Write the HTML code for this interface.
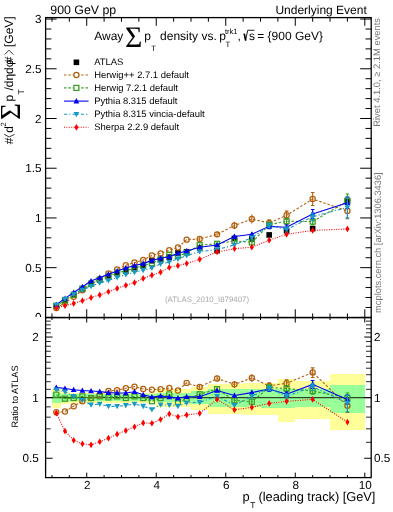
<!DOCTYPE html>
<html><head><meta charset="utf-8"><style>
html,body{margin:0;padding:0;background:#fff;}
body{width:393px;height:512px;overflow:hidden;position:relative;font-family:"Liberation Sans",sans-serif;}
svg{position:absolute;left:0;top:0;will-change:transform;}
text{text-rendering:geometricPrecision;}
</style></head><body>
<svg width="393" height="512" viewBox="0 0 393 512">
<defs><clipPath id="ct"><rect x="45.6" y="17.6" width="325.59999999999997" height="299.95"/></clipPath><clipPath id="cr"><rect x="45.6" y="317.55" width="325.59999999999997" height="160.05"/></clipPath><clipPath id="c0"><rect x="0" y="0" width="45" height="317"/></clipPath></defs>
<rect x="0" y="0" width="393" height="512" fill="#fff"/>
<g shape-rendering="crispEdges">
<rect x="51.96" y="388.53" width="8.69" height="19.31" fill="#ffff99"/>
<rect x="60.65" y="391.74" width="8.69" height="12.26" fill="#ffff99"/>
<rect x="69.34" y="392.56" width="8.69" height="10.50" fill="#ffff99"/>
<rect x="78.03" y="392.56" width="8.69" height="10.50" fill="#ffff99"/>
<rect x="86.72" y="392.56" width="8.69" height="10.50" fill="#ffff99"/>
<rect x="95.41" y="392.56" width="8.69" height="10.50" fill="#ffff99"/>
<rect x="104.10" y="392.56" width="8.69" height="10.50" fill="#ffff99"/>
<rect x="112.79" y="392.56" width="8.69" height="10.50" fill="#ffff99"/>
<rect x="121.48" y="392.56" width="8.69" height="10.50" fill="#ffff99"/>
<rect x="130.17" y="392.56" width="8.69" height="10.50" fill="#ffff99"/>
<rect x="138.86" y="392.56" width="8.69" height="10.50" fill="#ffff99"/>
<rect x="147.55" y="392.56" width="8.69" height="10.50" fill="#ffff99"/>
<rect x="156.24" y="389.32" width="8.69" height="17.54" fill="#ffff99"/>
<rect x="164.93" y="389.32" width="8.69" height="17.54" fill="#ffff99"/>
<rect x="173.62" y="389.32" width="8.69" height="17.54" fill="#ffff99"/>
<rect x="182.31" y="389.32" width="8.69" height="17.54" fill="#ffff99"/>
<rect x="191.00" y="386.97" width="17.38" height="22.86" fill="#ffff99"/>
<rect x="208.38" y="383.92" width="17.38" height="30.02" fill="#ffff99"/>
<rect x="225.76" y="383.55" width="17.38" height="30.92" fill="#ffff99"/>
<rect x="243.14" y="383.18" width="17.38" height="31.82" fill="#ffff99"/>
<rect x="260.52" y="383.18" width="17.38" height="31.82" fill="#ffff99"/>
<rect x="277.90" y="378.84" width="17.38" height="42.80" fill="#ffff99"/>
<rect x="295.28" y="380.62" width="34.76" height="38.19" fill="#ffff99"/>
<rect x="330.04" y="374.04" width="34.76" height="56.05" fill="#ffff99"/>
<rect x="51.96" y="392.72" width="8.69" height="10.15" fill="#99ff99"/>
<rect x="60.65" y="393.80" width="8.69" height="7.87" fill="#99ff99"/>
<rect x="69.34" y="394.39" width="8.69" height="6.65" fill="#99ff99"/>
<rect x="78.03" y="394.39" width="8.69" height="6.65" fill="#99ff99"/>
<rect x="86.72" y="394.39" width="8.69" height="6.65" fill="#99ff99"/>
<rect x="95.41" y="394.39" width="8.69" height="6.65" fill="#99ff99"/>
<rect x="104.10" y="394.39" width="8.69" height="6.65" fill="#99ff99"/>
<rect x="112.79" y="394.39" width="8.69" height="6.65" fill="#99ff99"/>
<rect x="121.48" y="394.39" width="8.69" height="6.65" fill="#99ff99"/>
<rect x="130.17" y="394.39" width="8.69" height="6.65" fill="#99ff99"/>
<rect x="138.86" y="394.39" width="8.69" height="6.65" fill="#99ff99"/>
<rect x="147.55" y="394.39" width="8.69" height="6.65" fill="#99ff99"/>
<rect x="156.24" y="393.22" width="8.69" height="9.10" fill="#99ff99"/>
<rect x="164.93" y="393.22" width="8.69" height="9.10" fill="#99ff99"/>
<rect x="173.62" y="393.22" width="8.69" height="9.10" fill="#99ff99"/>
<rect x="182.31" y="393.22" width="8.69" height="9.10" fill="#99ff99"/>
<rect x="191.00" y="391.33" width="17.38" height="13.14" fill="#99ff99"/>
<rect x="208.38" y="389.32" width="17.38" height="17.54" fill="#99ff99"/>
<rect x="225.76" y="389.32" width="17.38" height="17.54" fill="#99ff99"/>
<rect x="243.14" y="389.32" width="17.38" height="17.54" fill="#99ff99"/>
<rect x="260.52" y="388.53" width="17.38" height="19.31" fill="#99ff99"/>
<rect x="277.90" y="388.76" width="17.38" height="18.78" fill="#99ff99"/>
<rect x="295.28" y="389.00" width="34.76" height="18.25" fill="#99ff99"/>
<rect x="330.04" y="384.90" width="34.76" height="27.68" fill="#99ff99"/>
</g>
<line x1="45.6" y1="397.6" x2="371.2" y2="397.6" stroke="#000" stroke-opacity="0.72" stroke-width="1.25"/>
<rect x="53.50" y="303.40" width="5.6" height="5.6" fill="#000"/>
<rect x="62.19" y="297.51" width="5.6" height="5.6" fill="#000"/>
<rect x="70.89" y="291.91" width="5.6" height="5.6" fill="#000"/>
<rect x="79.58" y="286.31" width="5.6" height="5.6" fill="#000"/>
<rect x="88.27" y="280.81" width="5.6" height="5.6" fill="#000"/>
<rect x="96.95" y="277.41" width="5.6" height="5.6" fill="#000"/>
<rect x="105.64" y="273.82" width="5.6" height="5.6" fill="#000"/>
<rect x="114.33" y="270.62" width="5.6" height="5.6" fill="#000"/>
<rect x="123.03" y="267.82" width="5.6" height="5.6" fill="#000"/>
<rect x="131.71" y="266.12" width="5.6" height="5.6" fill="#000"/>
<rect x="140.40" y="262.62" width="5.6" height="5.6" fill="#000"/>
<rect x="149.09" y="258.02" width="5.6" height="5.6" fill="#000"/>
<rect x="157.78" y="256.52" width="5.6" height="5.6" fill="#000"/>
<rect x="166.47" y="254.32" width="5.6" height="5.6" fill="#000"/>
<rect x="175.16" y="250.12" width="5.6" height="5.6" fill="#000"/>
<rect x="183.85" y="248.92" width="5.6" height="5.6" fill="#000"/>
<rect x="196.89" y="245.13" width="5.6" height="5.6" fill="#000"/>
<rect x="214.27" y="247.82" width="5.6" height="5.6" fill="#000"/>
<rect x="231.65" y="235.63" width="5.6" height="5.6" fill="#000"/>
<rect x="249.03" y="236.13" width="5.6" height="5.6" fill="#000"/>
<rect x="266.41" y="232.13" width="5.6" height="5.6" fill="#000"/>
<rect x="283.79" y="227.93" width="5.6" height="5.6" fill="#000"/>
<rect x="309.86" y="225.83" width="5.6" height="5.6" fill="#000"/>
<rect x="344.62" y="197.64" width="5.6" height="5.6" fill="#000"/>
<polyline clip-path="url(#ct)" points="56.30,307.93 64.99,302.83 73.69,296.81 82.38,290.24 91.06,283.79 99.75,278.92 108.44,273.38 117.13,269.57 125.83,265.27 134.51,262.41 143.20,260.00 151.89,255.48 160.58,253.38 169.27,250.12 177.96,247.48 186.65,239.65 199.69,238.95 217.07,234.36 234.45,225.48 251.83,219.03 269.21,223.05 286.59,215.23 312.66,199.06 347.42,210.93" fill="none" stroke="#b3600f" stroke-width="1.1" stroke-dasharray="2.5,1.8"/>
<polyline clip-path="url(#cr)" points="56.30,412.31 64.99,411.59 73.69,406.15 82.38,401.21 91.06,398.10 99.75,394.67 108.44,390.97 117.13,390.33 125.83,388.19 134.51,386.65 143.20,388.98 151.89,389.77 160.58,389.13 169.27,388.04 177.96,390.57 186.65,382.89 199.69,387.03 217.07,378.59 234.45,384.37 251.83,377.90 269.21,385.88 286.59,383.26 312.66,372.51 347.42,405.87" fill="none" stroke="#b3600f" stroke-width="1.1" stroke-dasharray="2.5,1.8"/>
<path d="M199.69,236.60V241.30" stroke="#b3600f" stroke-width="1.1"/>
<path d="M199.69,384.45V389.69" stroke="#b3600f" stroke-width="1.1"/>
<path d="M217.07,231.45V237.27" stroke="#b3600f" stroke-width="1.1"/>
<path d="M217.07,375.58V381.71" stroke="#b3600f" stroke-width="1.1"/>
<path d="M234.45,221.80V229.16" stroke="#b3600f" stroke-width="1.1"/>
<path d="M234.45,380.95V387.94" stroke="#b3600f" stroke-width="1.1"/>
<path d="M251.83,214.51V223.56" stroke="#b3600f" stroke-width="1.1"/>
<path d="M251.83,373.96V382.01" stroke="#b3600f" stroke-width="1.1"/>
<path d="M269.21,219.74V226.35M267.41,219.74H271.01M267.41,226.35H271.01" stroke="#b3600f" stroke-width="1.1"/>
<path d="M269.21,382.87V389.00M267.41,382.87H271.01M267.41,389.00H271.01" stroke="#b3600f" stroke-width="1.1"/>
<path d="M286.59,211.14V219.31M284.79,211.14H288.39M284.79,219.31H288.39" stroke="#b3600f" stroke-width="1.1"/>
<path d="M286.59,379.83V386.83M284.79,379.83H288.39M284.79,386.83H288.39" stroke="#b3600f" stroke-width="1.1"/>
<path d="M312.66,192.55V205.57M310.86,192.55H314.46M310.86,205.57H314.46" stroke="#b3600f" stroke-width="1.1"/>
<path d="M312.66,367.83V377.46M310.86,367.83H314.46M310.86,377.46H314.46" stroke="#b3600f" stroke-width="1.1"/>
<path d="M347.42,203.16V218.71M345.62,203.16H349.22M345.62,218.71H349.22" stroke="#b3600f" stroke-width="1.1"/>
<path d="M347.42,399.71V412.49M345.62,399.71H349.22M345.62,412.49H349.22" stroke="#b3600f" stroke-width="1.1"/>
<circle cx="56.30" cy="307.93" r="2.6" fill="none" stroke="#b3600f" stroke-width="1.25"/>
<circle cx="56.30" cy="412.31" r="2.6" fill="none" stroke="#b3600f" stroke-width="1.25"/>
<circle cx="64.99" cy="302.83" r="2.6" fill="none" stroke="#b3600f" stroke-width="1.25"/>
<circle cx="64.99" cy="411.59" r="2.6" fill="none" stroke="#b3600f" stroke-width="1.25"/>
<circle cx="73.69" cy="296.81" r="2.6" fill="none" stroke="#b3600f" stroke-width="1.25"/>
<circle cx="73.69" cy="406.15" r="2.6" fill="none" stroke="#b3600f" stroke-width="1.25"/>
<circle cx="82.38" cy="290.24" r="2.6" fill="none" stroke="#b3600f" stroke-width="1.25"/>
<circle cx="82.38" cy="401.21" r="2.6" fill="none" stroke="#b3600f" stroke-width="1.25"/>
<circle cx="91.06" cy="283.79" r="2.6" fill="none" stroke="#b3600f" stroke-width="1.25"/>
<circle cx="91.06" cy="398.10" r="2.6" fill="none" stroke="#b3600f" stroke-width="1.25"/>
<circle cx="99.75" cy="278.92" r="2.6" fill="none" stroke="#b3600f" stroke-width="1.25"/>
<circle cx="99.75" cy="394.67" r="2.6" fill="none" stroke="#b3600f" stroke-width="1.25"/>
<circle cx="108.44" cy="273.38" r="2.6" fill="none" stroke="#b3600f" stroke-width="1.25"/>
<circle cx="108.44" cy="390.97" r="2.6" fill="none" stroke="#b3600f" stroke-width="1.25"/>
<circle cx="117.13" cy="269.57" r="2.6" fill="none" stroke="#b3600f" stroke-width="1.25"/>
<circle cx="117.13" cy="390.33" r="2.6" fill="none" stroke="#b3600f" stroke-width="1.25"/>
<circle cx="125.83" cy="265.27" r="2.6" fill="none" stroke="#b3600f" stroke-width="1.25"/>
<circle cx="125.83" cy="388.19" r="2.6" fill="none" stroke="#b3600f" stroke-width="1.25"/>
<circle cx="134.51" cy="262.41" r="2.6" fill="none" stroke="#b3600f" stroke-width="1.25"/>
<circle cx="134.51" cy="386.65" r="2.6" fill="none" stroke="#b3600f" stroke-width="1.25"/>
<circle cx="143.20" cy="260.00" r="2.6" fill="none" stroke="#b3600f" stroke-width="1.25"/>
<circle cx="143.20" cy="388.98" r="2.6" fill="none" stroke="#b3600f" stroke-width="1.25"/>
<circle cx="151.89" cy="255.48" r="2.6" fill="none" stroke="#b3600f" stroke-width="1.25"/>
<circle cx="151.89" cy="389.77" r="2.6" fill="none" stroke="#b3600f" stroke-width="1.25"/>
<circle cx="160.58" cy="253.38" r="2.6" fill="none" stroke="#b3600f" stroke-width="1.25"/>
<circle cx="160.58" cy="389.13" r="2.6" fill="none" stroke="#b3600f" stroke-width="1.25"/>
<circle cx="169.27" cy="250.12" r="2.6" fill="none" stroke="#b3600f" stroke-width="1.25"/>
<circle cx="169.27" cy="388.04" r="2.6" fill="none" stroke="#b3600f" stroke-width="1.25"/>
<circle cx="177.96" cy="247.48" r="2.6" fill="none" stroke="#b3600f" stroke-width="1.25"/>
<circle cx="177.96" cy="390.57" r="2.6" fill="none" stroke="#b3600f" stroke-width="1.25"/>
<circle cx="186.65" cy="239.65" r="2.6" fill="none" stroke="#b3600f" stroke-width="1.25"/>
<circle cx="186.65" cy="382.89" r="2.6" fill="none" stroke="#b3600f" stroke-width="1.25"/>
<circle cx="199.69" cy="238.95" r="2.6" fill="none" stroke="#b3600f" stroke-width="1.25"/>
<circle cx="199.69" cy="387.03" r="2.6" fill="none" stroke="#b3600f" stroke-width="1.25"/>
<circle cx="217.07" cy="234.36" r="2.6" fill="none" stroke="#b3600f" stroke-width="1.25"/>
<circle cx="217.07" cy="378.59" r="2.6" fill="none" stroke="#b3600f" stroke-width="1.25"/>
<circle cx="234.45" cy="225.48" r="2.6" fill="none" stroke="#b3600f" stroke-width="1.25"/>
<circle cx="234.45" cy="384.37" r="2.6" fill="none" stroke="#b3600f" stroke-width="1.25"/>
<circle cx="251.83" cy="219.03" r="2.6" fill="none" stroke="#b3600f" stroke-width="1.25"/>
<circle cx="251.83" cy="377.90" r="2.6" fill="none" stroke="#b3600f" stroke-width="1.25"/>
<circle cx="269.21" cy="223.05" r="2.6" fill="none" stroke="#b3600f" stroke-width="1.25"/>
<circle cx="269.21" cy="385.88" r="2.6" fill="none" stroke="#b3600f" stroke-width="1.25"/>
<circle cx="286.59" cy="215.23" r="2.6" fill="none" stroke="#b3600f" stroke-width="1.25"/>
<circle cx="286.59" cy="383.26" r="2.6" fill="none" stroke="#b3600f" stroke-width="1.25"/>
<circle cx="312.66" cy="199.06" r="2.6" fill="none" stroke="#b3600f" stroke-width="1.25"/>
<circle cx="312.66" cy="372.51" r="2.6" fill="none" stroke="#b3600f" stroke-width="1.25"/>
<circle cx="347.42" cy="210.93" r="2.6" fill="none" stroke="#b3600f" stroke-width="1.25"/>
<circle cx="347.42" cy="405.87" r="2.6" fill="none" stroke="#b3600f" stroke-width="1.25"/>
<polyline clip-path="url(#ct)" points="56.30,305.82 64.99,300.51 73.69,294.82 82.38,288.69 91.06,283.79 99.75,279.66 108.44,276.50 117.13,272.77 125.83,270.86 134.51,268.20 143.20,265.69 151.89,263.08 160.58,259.62 169.27,254.85 177.96,256.08 186.65,252.71 199.69,245.17 217.07,243.79 234.45,240.80 251.83,242.45 269.21,224.69 286.59,221.26 312.66,221.58 347.42,201.04" fill="none" stroke="#3c9c26" stroke-width="1.1" stroke-dasharray="2.5,1.8"/>
<polyline clip-path="url(#cr)" points="56.30,394.67 64.99,398.71 73.69,398.10 82.38,396.37 91.06,398.10 99.75,396.37 108.44,397.40 117.13,396.37 125.83,398.10 134.51,396.37 143.20,398.10 151.89,401.21 160.58,398.10 169.27,394.42 177.96,402.03 186.65,398.98 199.69,394.25 217.07,389.13 234.45,400.31 251.83,401.67 269.21,387.42 286.59,388.58 312.66,390.97 347.42,398.10" fill="none" stroke="#3c9c26" stroke-width="1.1" stroke-dasharray="2.5,1.8"/>
<path d="M199.69,243.73V246.62" stroke="#3c9c26" stroke-width="1.1"/>
<path d="M199.69,392.52V396.02" stroke="#3c9c26" stroke-width="1.1"/>
<path d="M217.07,241.95V245.63" stroke="#3c9c26" stroke-width="1.1"/>
<path d="M217.07,386.98V391.35" stroke="#3c9c26" stroke-width="1.1"/>
<path d="M234.45,238.50V243.10" stroke="#3c9c26" stroke-width="1.1"/>
<path d="M234.45,397.73V402.98" stroke="#3c9c26" stroke-width="1.1"/>
<path d="M251.83,239.83V245.08" stroke="#3c9c26" stroke-width="1.1"/>
<path d="M251.83,398.66V404.78" stroke="#3c9c26" stroke-width="1.1"/>
<path d="M269.21,222.37V227.01M267.41,222.37H271.01M267.41,227.01H271.01" stroke="#3c9c26" stroke-width="1.1"/>
<path d="M269.21,385.26V389.63M267.41,385.26H271.01M267.41,389.63H271.01" stroke="#3c9c26" stroke-width="1.1"/>
<path d="M286.59,218.38V224.15M284.79,218.38H288.39M284.79,224.15H288.39" stroke="#3c9c26" stroke-width="1.1"/>
<path d="M286.59,386.00V391.25M284.79,386.00H288.39M284.79,391.25H288.39" stroke="#3c9c26" stroke-width="1.1"/>
<path d="M312.66,218.23V224.94M310.86,218.23H314.46M310.86,224.94H314.46" stroke="#3c9c26" stroke-width="1.1"/>
<path d="M312.66,387.96V394.08M310.86,387.96H314.46M310.86,394.08H314.46" stroke="#3c9c26" stroke-width="1.1"/>
<path d="M347.42,194.06V208.02M345.62,194.06H349.22M345.62,208.02H349.22" stroke="#3c9c26" stroke-width="1.1"/>
<path d="M347.42,393.01V403.51M345.62,393.01H349.22M345.62,403.51H349.22" stroke="#3c9c26" stroke-width="1.1"/>
<rect x="53.80" y="303.32" width="5.0" height="5.0" fill="none" stroke="#3c9c26" stroke-width="1.25"/>
<rect x="53.80" y="392.17" width="5.0" height="5.0" fill="none" stroke="#3c9c26" stroke-width="1.25"/>
<rect x="62.49" y="298.01" width="5.0" height="5.0" fill="none" stroke="#3c9c26" stroke-width="1.25"/>
<rect x="62.49" y="396.21" width="5.0" height="5.0" fill="none" stroke="#3c9c26" stroke-width="1.25"/>
<rect x="71.19" y="292.32" width="5.0" height="5.0" fill="none" stroke="#3c9c26" stroke-width="1.25"/>
<rect x="71.19" y="395.60" width="5.0" height="5.0" fill="none" stroke="#3c9c26" stroke-width="1.25"/>
<rect x="79.88" y="286.19" width="5.0" height="5.0" fill="none" stroke="#3c9c26" stroke-width="1.25"/>
<rect x="79.88" y="393.87" width="5.0" height="5.0" fill="none" stroke="#3c9c26" stroke-width="1.25"/>
<rect x="88.56" y="281.29" width="5.0" height="5.0" fill="none" stroke="#3c9c26" stroke-width="1.25"/>
<rect x="88.56" y="395.60" width="5.0" height="5.0" fill="none" stroke="#3c9c26" stroke-width="1.25"/>
<rect x="97.25" y="277.16" width="5.0" height="5.0" fill="none" stroke="#3c9c26" stroke-width="1.25"/>
<rect x="97.25" y="393.87" width="5.0" height="5.0" fill="none" stroke="#3c9c26" stroke-width="1.25"/>
<rect x="105.94" y="274.00" width="5.0" height="5.0" fill="none" stroke="#3c9c26" stroke-width="1.25"/>
<rect x="105.94" y="394.90" width="5.0" height="5.0" fill="none" stroke="#3c9c26" stroke-width="1.25"/>
<rect x="114.63" y="270.27" width="5.0" height="5.0" fill="none" stroke="#3c9c26" stroke-width="1.25"/>
<rect x="114.63" y="393.87" width="5.0" height="5.0" fill="none" stroke="#3c9c26" stroke-width="1.25"/>
<rect x="123.33" y="268.36" width="5.0" height="5.0" fill="none" stroke="#3c9c26" stroke-width="1.25"/>
<rect x="123.33" y="395.60" width="5.0" height="5.0" fill="none" stroke="#3c9c26" stroke-width="1.25"/>
<rect x="132.01" y="265.70" width="5.0" height="5.0" fill="none" stroke="#3c9c26" stroke-width="1.25"/>
<rect x="132.01" y="393.87" width="5.0" height="5.0" fill="none" stroke="#3c9c26" stroke-width="1.25"/>
<rect x="140.70" y="263.19" width="5.0" height="5.0" fill="none" stroke="#3c9c26" stroke-width="1.25"/>
<rect x="140.70" y="395.60" width="5.0" height="5.0" fill="none" stroke="#3c9c26" stroke-width="1.25"/>
<rect x="149.39" y="260.58" width="5.0" height="5.0" fill="none" stroke="#3c9c26" stroke-width="1.25"/>
<rect x="149.39" y="398.71" width="5.0" height="5.0" fill="none" stroke="#3c9c26" stroke-width="1.25"/>
<rect x="158.08" y="257.12" width="5.0" height="5.0" fill="none" stroke="#3c9c26" stroke-width="1.25"/>
<rect x="158.08" y="395.60" width="5.0" height="5.0" fill="none" stroke="#3c9c26" stroke-width="1.25"/>
<rect x="166.77" y="252.35" width="5.0" height="5.0" fill="none" stroke="#3c9c26" stroke-width="1.25"/>
<rect x="166.77" y="391.92" width="5.0" height="5.0" fill="none" stroke="#3c9c26" stroke-width="1.25"/>
<rect x="175.46" y="253.58" width="5.0" height="5.0" fill="none" stroke="#3c9c26" stroke-width="1.25"/>
<rect x="175.46" y="399.53" width="5.0" height="5.0" fill="none" stroke="#3c9c26" stroke-width="1.25"/>
<rect x="184.15" y="250.21" width="5.0" height="5.0" fill="none" stroke="#3c9c26" stroke-width="1.25"/>
<rect x="184.15" y="396.48" width="5.0" height="5.0" fill="none" stroke="#3c9c26" stroke-width="1.25"/>
<rect x="197.19" y="242.67" width="5.0" height="5.0" fill="none" stroke="#3c9c26" stroke-width="1.25"/>
<rect x="197.19" y="391.75" width="5.0" height="5.0" fill="none" stroke="#3c9c26" stroke-width="1.25"/>
<rect x="214.57" y="241.29" width="5.0" height="5.0" fill="none" stroke="#3c9c26" stroke-width="1.25"/>
<rect x="214.57" y="386.63" width="5.0" height="5.0" fill="none" stroke="#3c9c26" stroke-width="1.25"/>
<rect x="231.95" y="238.30" width="5.0" height="5.0" fill="none" stroke="#3c9c26" stroke-width="1.25"/>
<rect x="231.95" y="397.81" width="5.0" height="5.0" fill="none" stroke="#3c9c26" stroke-width="1.25"/>
<rect x="249.33" y="239.95" width="5.0" height="5.0" fill="none" stroke="#3c9c26" stroke-width="1.25"/>
<rect x="249.33" y="399.17" width="5.0" height="5.0" fill="none" stroke="#3c9c26" stroke-width="1.25"/>
<rect x="266.71" y="222.19" width="5.0" height="5.0" fill="none" stroke="#3c9c26" stroke-width="1.25"/>
<rect x="266.71" y="384.92" width="5.0" height="5.0" fill="none" stroke="#3c9c26" stroke-width="1.25"/>
<rect x="284.09" y="218.76" width="5.0" height="5.0" fill="none" stroke="#3c9c26" stroke-width="1.25"/>
<rect x="284.09" y="386.08" width="5.0" height="5.0" fill="none" stroke="#3c9c26" stroke-width="1.25"/>
<rect x="310.16" y="219.08" width="5.0" height="5.0" fill="none" stroke="#3c9c26" stroke-width="1.25"/>
<rect x="310.16" y="388.47" width="5.0" height="5.0" fill="none" stroke="#3c9c26" stroke-width="1.25"/>
<rect x="344.92" y="198.54" width="5.0" height="5.0" fill="none" stroke="#3c9c26" stroke-width="1.25"/>
<rect x="344.92" y="395.60" width="5.0" height="5.0" fill="none" stroke="#3c9c26" stroke-width="1.25"/>
<polyline clip-path="url(#ct)" points="56.30,304.81 64.99,298.40 73.69,292.57 82.38,286.72 91.06,280.93 99.75,277.52 108.44,274.19 117.13,271.02 125.83,268.06 134.51,265.55 143.20,263.62 151.89,260.38 160.58,258.23 169.27,256.71 177.96,253.25 186.65,251.02 199.69,247.18 217.07,244.99 234.45,236.48 251.83,234.26 269.21,226.33 286.59,227.30 312.66,214.08 347.42,202.79" fill="none" stroke="#0000ee" stroke-width="1.1"/>
<polyline clip-path="url(#cr)" points="56.30,387.42 64.99,388.43 73.69,389.77 82.38,390.57 91.06,390.97 99.75,391.53 108.44,392.59 117.13,393.01 125.83,393.01 134.51,391.78 143.20,394.67 151.89,396.97 160.58,396.03 169.27,397.06 177.96,398.10 186.65,396.71 199.69,396.71 217.07,390.57 234.45,395.52 251.83,392.59 269.21,388.98 286.59,394.25 312.66,384.37 347.42,399.42" fill="none" stroke="#0000ee" stroke-width="1.1"/>
<path d="M199.69,246.12V248.23" stroke="#0000ee" stroke-width="1.1"/>
<path d="M199.69,395.41V398.03" stroke="#0000ee" stroke-width="1.1"/>
<path d="M217.07,243.54V246.44" stroke="#0000ee" stroke-width="1.1"/>
<path d="M217.07,388.83V392.33" stroke="#0000ee" stroke-width="1.1"/>
<path d="M234.45,234.45V238.50" stroke="#0000ee" stroke-width="1.1"/>
<path d="M234.45,393.36V397.73" stroke="#0000ee" stroke-width="1.1"/>
<path d="M251.83,232.18V236.34" stroke="#0000ee" stroke-width="1.1"/>
<path d="M251.83,390.44V394.81" stroke="#0000ee" stroke-width="1.1"/>
<path d="M269.21,224.05V228.61M267.41,224.05H271.01M267.41,228.61H271.01" stroke="#0000ee" stroke-width="1.1"/>
<path d="M269.21,386.82V391.19M267.41,386.82H271.01M267.41,391.19H271.01" stroke="#0000ee" stroke-width="1.1"/>
<path d="M286.59,225.04V229.55M284.79,225.04H288.39M284.79,229.55H288.39" stroke="#0000ee" stroke-width="1.1"/>
<path d="M286.59,392.09V396.47M284.79,392.09H288.39M284.79,396.47H288.39" stroke="#0000ee" stroke-width="1.1"/>
<path d="M312.66,209.43V218.73M310.86,209.43H314.46M310.86,218.73H314.46" stroke="#0000ee" stroke-width="1.1"/>
<path d="M312.66,380.53V388.40M310.86,380.53H314.46M310.86,388.40H314.46" stroke="#0000ee" stroke-width="1.1"/>
<path d="M347.42,197.06V208.52M345.62,197.06H349.22M345.62,208.52H349.22" stroke="#0000ee" stroke-width="1.1"/>
<path d="M347.42,395.16V403.91M345.62,395.16H349.22M345.62,403.91H349.22" stroke="#0000ee" stroke-width="1.1"/>
<path d="M56.30,301.81L59.20,307.11L53.40,307.11Z" fill="#0000ee"/>
<path d="M56.30,384.42L59.20,389.72L53.40,389.72Z" fill="#0000ee"/>
<path d="M64.99,295.40L67.89,300.70L62.09,300.70Z" fill="#0000ee"/>
<path d="M64.99,385.43L67.89,390.73L62.09,390.73Z" fill="#0000ee"/>
<path d="M73.69,289.57L76.59,294.87L70.78,294.87Z" fill="#0000ee"/>
<path d="M73.69,386.77L76.59,392.07L70.78,392.07Z" fill="#0000ee"/>
<path d="M82.38,283.72L85.28,289.02L79.47,289.02Z" fill="#0000ee"/>
<path d="M82.38,387.57L85.28,392.87L79.47,392.87Z" fill="#0000ee"/>
<path d="M91.06,277.93L93.97,283.23L88.16,283.23Z" fill="#0000ee"/>
<path d="M91.06,387.97L93.97,393.27L88.16,393.27Z" fill="#0000ee"/>
<path d="M99.75,274.52L102.66,279.82L96.85,279.82Z" fill="#0000ee"/>
<path d="M99.75,388.53L102.66,393.83L96.85,393.83Z" fill="#0000ee"/>
<path d="M108.44,271.19L111.34,276.49L105.54,276.49Z" fill="#0000ee"/>
<path d="M108.44,389.59L111.34,394.89L105.54,394.89Z" fill="#0000ee"/>
<path d="M117.13,268.02L120.03,273.32L114.23,273.32Z" fill="#0000ee"/>
<path d="M117.13,390.01L120.03,395.31L114.23,395.31Z" fill="#0000ee"/>
<path d="M125.83,265.06L128.72,270.36L122.92,270.36Z" fill="#0000ee"/>
<path d="M125.83,390.01L128.72,395.31L122.92,395.31Z" fill="#0000ee"/>
<path d="M134.51,262.55L137.41,267.85L131.61,267.85Z" fill="#0000ee"/>
<path d="M134.51,388.78L137.41,394.08L131.61,394.08Z" fill="#0000ee"/>
<path d="M143.20,260.62L146.10,265.92L140.30,265.92Z" fill="#0000ee"/>
<path d="M143.20,391.67L146.10,396.97L140.30,396.97Z" fill="#0000ee"/>
<path d="M151.89,257.38L154.79,262.68L148.99,262.68Z" fill="#0000ee"/>
<path d="M151.89,393.97L154.79,399.27L148.99,399.27Z" fill="#0000ee"/>
<path d="M160.58,255.23L163.48,260.53L157.68,260.53Z" fill="#0000ee"/>
<path d="M160.58,393.03L163.48,398.33L157.68,398.33Z" fill="#0000ee"/>
<path d="M169.27,253.71L172.17,259.01L166.37,259.01Z" fill="#0000ee"/>
<path d="M169.27,394.06L172.17,399.36L166.37,399.36Z" fill="#0000ee"/>
<path d="M177.96,250.25L180.86,255.55L175.06,255.55Z" fill="#0000ee"/>
<path d="M177.96,395.10L180.86,400.40L175.06,400.40Z" fill="#0000ee"/>
<path d="M186.65,248.02L189.55,253.32L183.75,253.32Z" fill="#0000ee"/>
<path d="M186.65,393.71L189.55,399.01L183.75,399.01Z" fill="#0000ee"/>
<path d="M199.69,244.18L202.59,249.48L196.79,249.48Z" fill="#0000ee"/>
<path d="M199.69,393.71L202.59,399.01L196.79,399.01Z" fill="#0000ee"/>
<path d="M217.07,241.99L219.97,247.29L214.17,247.29Z" fill="#0000ee"/>
<path d="M217.07,387.57L219.97,392.87L214.17,392.87Z" fill="#0000ee"/>
<path d="M234.45,233.48L237.35,238.78L231.55,238.78Z" fill="#0000ee"/>
<path d="M234.45,392.52L237.35,397.82L231.55,397.82Z" fill="#0000ee"/>
<path d="M251.83,231.26L254.73,236.56L248.93,236.56Z" fill="#0000ee"/>
<path d="M251.83,389.59L254.73,394.89L248.93,394.89Z" fill="#0000ee"/>
<path d="M269.21,223.33L272.11,228.63L266.31,228.63Z" fill="#0000ee"/>
<path d="M269.21,385.98L272.11,391.28L266.31,391.28Z" fill="#0000ee"/>
<path d="M286.59,224.30L289.49,229.60L283.69,229.60Z" fill="#0000ee"/>
<path d="M286.59,391.25L289.49,396.55L283.69,396.55Z" fill="#0000ee"/>
<path d="M312.66,211.08L315.56,216.38L309.76,216.38Z" fill="#0000ee"/>
<path d="M312.66,381.37L315.56,386.67L309.76,386.67Z" fill="#0000ee"/>
<path d="M347.42,199.79L350.32,205.09L344.52,205.09Z" fill="#0000ee"/>
<path d="M347.42,396.42L350.32,401.72L344.52,401.72Z" fill="#0000ee"/>
<polyline clip-path="url(#ct)" points="56.30,305.15 64.99,299.12 73.69,294.37 82.38,289.93 91.06,286.27 99.75,282.81 108.44,280.48 117.13,277.58 125.83,274.58 134.51,272.30 143.20,270.24 151.89,267.98 160.58,263.90 169.27,262.05 177.96,258.90 186.65,255.59 199.69,251.60 217.07,249.51 234.45,244.96 251.83,237.77 269.21,225.51 286.59,229.45 312.66,216.72 347.42,207.44" fill="none" stroke="#1899c6" stroke-width="1.1" stroke-dasharray="3.2,2,1.2,2"/>
<polyline clip-path="url(#cr)" points="56.30,389.77 64.99,391.78 73.69,396.37 82.38,400.22 91.06,404.82 99.75,403.98 108.44,406.34 117.13,406.34 125.83,405.39 134.51,403.98 143.20,406.15 151.89,409.47 160.58,404.82 169.27,405.10 177.96,406.15 186.65,402.95 199.69,402.40 217.07,396.20 234.45,405.20 251.83,396.37 269.21,388.19 286.59,396.37 312.66,386.65 347.42,403.05" fill="none" stroke="#1899c6" stroke-width="1.1" stroke-dasharray="3.2,2,1.2,2"/>
<path d="M199.69,250.28V252.92" stroke="#1899c6" stroke-width="1.1"/>
<path d="M199.69,400.67V404.17" stroke="#1899c6" stroke-width="1.1"/>
<path d="M217.07,248.15V250.86" stroke="#1899c6" stroke-width="1.1"/>
<path d="M217.07,394.47V397.96" stroke="#1899c6" stroke-width="1.1"/>
<path d="M234.45,243.15V246.77" stroke="#1899c6" stroke-width="1.1"/>
<path d="M234.45,403.04V407.41" stroke="#1899c6" stroke-width="1.1"/>
<path d="M251.83,235.38V240.16" stroke="#1899c6" stroke-width="1.1"/>
<path d="M251.83,393.78V399.03" stroke="#1899c6" stroke-width="1.1"/>
<path d="M269.21,223.21V227.81M267.41,223.21H271.01M267.41,227.81H271.01" stroke="#1899c6" stroke-width="1.1"/>
<path d="M269.21,386.03V390.41M267.41,386.03H271.01M267.41,390.41H271.01" stroke="#1899c6" stroke-width="1.1"/>
<path d="M286.59,226.81V232.09M284.79,226.81H288.39M284.79,232.09H288.39" stroke="#1899c6" stroke-width="1.1"/>
<path d="M286.59,393.78V399.03M284.79,393.78H288.39M284.79,399.03H288.39" stroke="#1899c6" stroke-width="1.1"/>
<path d="M312.66,212.70V220.75M310.86,212.70H314.46M310.86,220.75H314.46" stroke="#1899c6" stroke-width="1.1"/>
<path d="M312.66,383.22V390.21M310.86,383.22H314.46M310.86,390.21H314.46" stroke="#1899c6" stroke-width="1.1"/>
<path d="M347.42,197.00V217.89M345.62,197.00H349.22M345.62,217.89H349.22" stroke="#1899c6" stroke-width="1.1"/>
<path d="M347.42,395.11V411.77M345.62,395.11H349.22M345.62,411.77H349.22" stroke="#1899c6" stroke-width="1.1"/>
<path d="M56.30,308.15L59.20,302.85L53.40,302.85Z" fill="#1899c6"/>
<path d="M56.30,392.77L59.20,387.47L53.40,387.47Z" fill="#1899c6"/>
<path d="M64.99,302.12L67.89,296.82L62.09,296.82Z" fill="#1899c6"/>
<path d="M64.99,394.78L67.89,389.48L62.09,389.48Z" fill="#1899c6"/>
<path d="M73.69,297.37L76.59,292.07L70.78,292.07Z" fill="#1899c6"/>
<path d="M73.69,399.37L76.59,394.07L70.78,394.07Z" fill="#1899c6"/>
<path d="M82.38,292.93L85.28,287.63L79.47,287.63Z" fill="#1899c6"/>
<path d="M82.38,403.22L85.28,397.92L79.47,397.92Z" fill="#1899c6"/>
<path d="M91.06,289.27L93.97,283.97L88.16,283.97Z" fill="#1899c6"/>
<path d="M91.06,407.82L93.97,402.52L88.16,402.52Z" fill="#1899c6"/>
<path d="M99.75,285.81L102.66,280.51L96.85,280.51Z" fill="#1899c6"/>
<path d="M99.75,406.98L102.66,401.68L96.85,401.68Z" fill="#1899c6"/>
<path d="M108.44,283.48L111.34,278.18L105.54,278.18Z" fill="#1899c6"/>
<path d="M108.44,409.34L111.34,404.04L105.54,404.04Z" fill="#1899c6"/>
<path d="M117.13,280.58L120.03,275.28L114.23,275.28Z" fill="#1899c6"/>
<path d="M117.13,409.34L120.03,404.04L114.23,404.04Z" fill="#1899c6"/>
<path d="M125.83,277.58L128.72,272.28L122.92,272.28Z" fill="#1899c6"/>
<path d="M125.83,408.39L128.72,403.09L122.92,403.09Z" fill="#1899c6"/>
<path d="M134.51,275.30L137.41,270.00L131.61,270.00Z" fill="#1899c6"/>
<path d="M134.51,406.98L137.41,401.68L131.61,401.68Z" fill="#1899c6"/>
<path d="M143.20,273.24L146.10,267.94L140.30,267.94Z" fill="#1899c6"/>
<path d="M143.20,409.15L146.10,403.85L140.30,403.85Z" fill="#1899c6"/>
<path d="M151.89,270.98L154.79,265.68L148.99,265.68Z" fill="#1899c6"/>
<path d="M151.89,412.47L154.79,407.17L148.99,407.17Z" fill="#1899c6"/>
<path d="M160.58,266.90L163.48,261.60L157.68,261.60Z" fill="#1899c6"/>
<path d="M160.58,407.82L163.48,402.52L157.68,402.52Z" fill="#1899c6"/>
<path d="M169.27,265.05L172.17,259.75L166.37,259.75Z" fill="#1899c6"/>
<path d="M169.27,408.10L172.17,402.80L166.37,402.80Z" fill="#1899c6"/>
<path d="M177.96,261.90L180.86,256.60L175.06,256.60Z" fill="#1899c6"/>
<path d="M177.96,409.15L180.86,403.85L175.06,403.85Z" fill="#1899c6"/>
<path d="M186.65,258.59L189.55,253.29L183.75,253.29Z" fill="#1899c6"/>
<path d="M186.65,405.95L189.55,400.65L183.75,400.65Z" fill="#1899c6"/>
<path d="M199.69,254.60L202.59,249.30L196.79,249.30Z" fill="#1899c6"/>
<path d="M199.69,405.40L202.59,400.10L196.79,400.10Z" fill="#1899c6"/>
<path d="M217.07,252.51L219.97,247.21L214.17,247.21Z" fill="#1899c6"/>
<path d="M217.07,399.20L219.97,393.90L214.17,393.90Z" fill="#1899c6"/>
<path d="M234.45,247.96L237.35,242.66L231.55,242.66Z" fill="#1899c6"/>
<path d="M234.45,408.20L237.35,402.90L231.55,402.90Z" fill="#1899c6"/>
<path d="M251.83,240.77L254.73,235.47L248.93,235.47Z" fill="#1899c6"/>
<path d="M251.83,399.37L254.73,394.07L248.93,394.07Z" fill="#1899c6"/>
<path d="M269.21,228.51L272.11,223.21L266.31,223.21Z" fill="#1899c6"/>
<path d="M269.21,391.19L272.11,385.89L266.31,385.89Z" fill="#1899c6"/>
<path d="M286.59,232.45L289.49,227.15L283.69,227.15Z" fill="#1899c6"/>
<path d="M286.59,399.37L289.49,394.07L283.69,394.07Z" fill="#1899c6"/>
<path d="M312.66,219.72L315.56,214.42L309.76,214.42Z" fill="#1899c6"/>
<path d="M312.66,389.65L315.56,384.35L309.76,384.35Z" fill="#1899c6"/>
<path d="M347.42,210.44L350.32,205.14L344.52,205.14Z" fill="#1899c6"/>
<path d="M347.42,406.05L350.32,400.75L344.52,400.75Z" fill="#1899c6"/>
<polyline clip-path="url(#ct)" points="56.30,308.01 64.99,305.73 73.69,303.47 82.38,300.71 91.06,297.70 99.75,294.94 108.44,291.76 117.13,288.43 125.83,285.29 134.51,282.67 143.20,278.46 151.89,275.18 160.58,272.16 169.27,267.39 177.96,265.63 186.65,263.50 199.69,259.34 217.07,251.90 234.45,248.73 251.83,247.14 269.21,240.19 286.59,234.28 312.66,230.41 347.42,228.97" fill="none" stroke="#ff0000" stroke-width="1.1" stroke-dasharray="1,1.4"/>
<polyline clip-path="url(#cr)" points="56.30,413.03 64.99,431.05 73.69,440.32 82.38,443.78 91.06,444.82 99.75,441.74 108.44,438.22 117.13,434.16 125.83,430.54 134.51,426.82 143.20,422.90 151.89,423.25 160.58,419.49 169.27,413.97 177.96,416.85 186.65,414.92 199.69,413.34 217.07,399.33 234.45,409.87 251.83,407.31 269.21,403.42 286.59,401.31 312.66,399.42 347.42,422.09" fill="none" stroke="#ff0000" stroke-width="1.1" stroke-dasharray="1,1.4"/>
<path d="M56.30,304.66L58.35,308.01L56.30,311.36L54.25,308.01Z" fill="#ff0000"/>
<path d="M56.30,409.68L58.35,413.03L56.30,416.38L54.25,413.03Z" fill="#ff0000"/>
<path d="M64.99,302.38L67.04,305.73L64.99,309.08L62.94,305.73Z" fill="#ff0000"/>
<path d="M64.99,427.70L67.04,431.05L64.99,434.40L62.94,431.05Z" fill="#ff0000"/>
<path d="M73.69,300.12L75.73,303.47L73.69,306.82L71.64,303.47Z" fill="#ff0000"/>
<path d="M73.69,436.97L75.73,440.32L73.69,443.67L71.64,440.32Z" fill="#ff0000"/>
<path d="M82.38,297.36L84.42,300.71L82.38,304.06L80.33,300.71Z" fill="#ff0000"/>
<path d="M82.38,440.43L84.42,443.78L82.38,447.13L80.33,443.78Z" fill="#ff0000"/>
<path d="M91.06,294.35L93.11,297.70L91.06,301.05L89.02,297.70Z" fill="#ff0000"/>
<path d="M91.06,441.47L93.11,444.82L91.06,448.17L89.02,444.82Z" fill="#ff0000"/>
<path d="M99.75,291.59L101.80,294.94L99.75,298.29L97.70,294.94Z" fill="#ff0000"/>
<path d="M99.75,438.39L101.80,441.74L99.75,445.09L97.70,441.74Z" fill="#ff0000"/>
<path d="M108.44,288.41L110.49,291.76L108.44,295.11L106.39,291.76Z" fill="#ff0000"/>
<path d="M108.44,434.87L110.49,438.22L108.44,441.57L106.39,438.22Z" fill="#ff0000"/>
<path d="M117.13,285.08L119.18,288.43L117.13,291.78L115.08,288.43Z" fill="#ff0000"/>
<path d="M117.13,430.81L119.18,434.16L117.13,437.51L115.08,434.16Z" fill="#ff0000"/>
<path d="M125.83,281.94L127.88,285.29L125.83,288.64L123.78,285.29Z" fill="#ff0000"/>
<path d="M125.83,427.19L127.88,430.54L125.83,433.89L123.78,430.54Z" fill="#ff0000"/>
<path d="M134.51,279.32L136.56,282.67L134.51,286.02L132.46,282.67Z" fill="#ff0000"/>
<path d="M134.51,423.47L136.56,426.82L134.51,430.17L132.46,426.82Z" fill="#ff0000"/>
<path d="M143.20,275.11L145.25,278.46L143.20,281.81L141.15,278.46Z" fill="#ff0000"/>
<path d="M143.20,419.55L145.25,422.90L143.20,426.25L141.15,422.90Z" fill="#ff0000"/>
<path d="M151.89,271.83L153.94,275.18L151.89,278.53L149.84,275.18Z" fill="#ff0000"/>
<path d="M151.89,419.90L153.94,423.25L151.89,426.60L149.84,423.25Z" fill="#ff0000"/>
<path d="M160.58,268.81L162.63,272.16L160.58,275.51L158.53,272.16Z" fill="#ff0000"/>
<path d="M160.58,416.14L162.63,419.49L160.58,422.84L158.53,419.49Z" fill="#ff0000"/>
<path d="M169.27,264.04L171.32,267.39L169.27,270.74L167.22,267.39Z" fill="#ff0000"/>
<path d="M169.27,410.62L171.32,413.97L169.27,417.32L167.22,413.97Z" fill="#ff0000"/>
<path d="M177.96,262.28L180.01,265.63L177.96,268.98L175.91,265.63Z" fill="#ff0000"/>
<path d="M177.96,413.50L180.01,416.85L177.96,420.20L175.91,416.85Z" fill="#ff0000"/>
<path d="M186.65,260.15L188.70,263.50L186.65,266.85L184.60,263.50Z" fill="#ff0000"/>
<path d="M186.65,411.57L188.70,414.92L186.65,418.27L184.60,414.92Z" fill="#ff0000"/>
<path d="M199.69,255.99L201.74,259.34L199.69,262.69L197.64,259.34Z" fill="#ff0000"/>
<path d="M199.69,409.99L201.74,413.34L199.69,416.69L197.64,413.34Z" fill="#ff0000"/>
<path d="M217.07,248.55L219.12,251.90L217.07,255.25L215.02,251.90Z" fill="#ff0000"/>
<path d="M217.07,395.98L219.12,399.33L217.07,402.68L215.02,399.33Z" fill="#ff0000"/>
<path d="M234.45,245.38L236.50,248.73L234.45,252.08L232.40,248.73Z" fill="#ff0000"/>
<path d="M234.45,406.52L236.50,409.87L234.45,413.22L232.40,409.87Z" fill="#ff0000"/>
<path d="M251.83,243.79L253.88,247.14L251.83,250.49L249.78,247.14Z" fill="#ff0000"/>
<path d="M251.83,403.96L253.88,407.31L251.83,410.66L249.78,407.31Z" fill="#ff0000"/>
<path d="M269.21,236.84L271.26,240.19L269.21,243.54L267.16,240.19Z" fill="#ff0000"/>
<path d="M269.21,400.07L271.26,403.42L269.21,406.77L267.16,403.42Z" fill="#ff0000"/>
<path d="M286.59,230.93L288.64,234.28L286.59,237.63L284.54,234.28Z" fill="#ff0000"/>
<path d="M286.59,397.96L288.64,401.31L286.59,404.66L284.54,401.31Z" fill="#ff0000"/>
<path d="M312.66,227.06L314.71,230.41L312.66,233.76L310.61,230.41Z" fill="#ff0000"/>
<path d="M312.66,396.07L314.71,399.42L312.66,402.77L310.61,399.42Z" fill="#ff0000"/>
<path d="M347.42,225.62L349.47,228.97L347.42,232.32L345.37,228.97Z" fill="#ff0000"/>
<path d="M347.42,418.74L349.47,422.09L347.42,425.44L345.37,422.09Z" fill="#ff0000"/>
<rect x="45.6" y="17.6" width="325.60" height="299.95" fill="none" stroke="#000" stroke-width="1.3"/>
<rect x="45.6" y="317.55" width="325.60" height="160.05" fill="none" stroke="#000" stroke-width="1.3"/>
<line x1="45.60" y1="317.40" x2="56.60" y2="317.40" stroke="#000" stroke-width="1.0"/>
<line x1="371.20" y1="317.40" x2="360.20" y2="317.40" stroke="#000" stroke-width="1.0"/>
<line x1="45.60" y1="307.45" x2="51.30" y2="307.45" stroke="#000" stroke-width="1.0"/>
<line x1="371.20" y1="307.45" x2="365.50" y2="307.45" stroke="#000" stroke-width="1.0"/>
<line x1="45.60" y1="297.51" x2="51.30" y2="297.51" stroke="#000" stroke-width="1.0"/>
<line x1="371.20" y1="297.51" x2="365.50" y2="297.51" stroke="#000" stroke-width="1.0"/>
<line x1="45.60" y1="287.56" x2="51.30" y2="287.56" stroke="#000" stroke-width="1.0"/>
<line x1="371.20" y1="287.56" x2="365.50" y2="287.56" stroke="#000" stroke-width="1.0"/>
<line x1="45.60" y1="277.62" x2="51.30" y2="277.62" stroke="#000" stroke-width="1.0"/>
<line x1="371.20" y1="277.62" x2="365.50" y2="277.62" stroke="#000" stroke-width="1.0"/>
<line x1="45.60" y1="267.67" x2="56.60" y2="267.67" stroke="#000" stroke-width="1.0"/>
<line x1="371.20" y1="267.67" x2="360.20" y2="267.67" stroke="#000" stroke-width="1.0"/>
<line x1="45.60" y1="257.73" x2="51.30" y2="257.73" stroke="#000" stroke-width="1.0"/>
<line x1="371.20" y1="257.73" x2="365.50" y2="257.73" stroke="#000" stroke-width="1.0"/>
<line x1="45.60" y1="247.78" x2="51.30" y2="247.78" stroke="#000" stroke-width="1.0"/>
<line x1="371.20" y1="247.78" x2="365.50" y2="247.78" stroke="#000" stroke-width="1.0"/>
<line x1="45.60" y1="237.84" x2="51.30" y2="237.84" stroke="#000" stroke-width="1.0"/>
<line x1="371.20" y1="237.84" x2="365.50" y2="237.84" stroke="#000" stroke-width="1.0"/>
<line x1="45.60" y1="227.89" x2="51.30" y2="227.89" stroke="#000" stroke-width="1.0"/>
<line x1="371.20" y1="227.89" x2="365.50" y2="227.89" stroke="#000" stroke-width="1.0"/>
<line x1="45.60" y1="217.95" x2="56.60" y2="217.95" stroke="#000" stroke-width="1.0"/>
<line x1="371.20" y1="217.95" x2="360.20" y2="217.95" stroke="#000" stroke-width="1.0"/>
<line x1="45.60" y1="208.00" x2="51.30" y2="208.00" stroke="#000" stroke-width="1.0"/>
<line x1="371.20" y1="208.00" x2="365.50" y2="208.00" stroke="#000" stroke-width="1.0"/>
<line x1="45.60" y1="198.06" x2="51.30" y2="198.06" stroke="#000" stroke-width="1.0"/>
<line x1="371.20" y1="198.06" x2="365.50" y2="198.06" stroke="#000" stroke-width="1.0"/>
<line x1="45.60" y1="188.11" x2="51.30" y2="188.11" stroke="#000" stroke-width="1.0"/>
<line x1="371.20" y1="188.11" x2="365.50" y2="188.11" stroke="#000" stroke-width="1.0"/>
<line x1="45.60" y1="178.17" x2="51.30" y2="178.17" stroke="#000" stroke-width="1.0"/>
<line x1="371.20" y1="178.17" x2="365.50" y2="178.17" stroke="#000" stroke-width="1.0"/>
<line x1="45.60" y1="168.22" x2="56.60" y2="168.22" stroke="#000" stroke-width="1.0"/>
<line x1="371.20" y1="168.22" x2="360.20" y2="168.22" stroke="#000" stroke-width="1.0"/>
<line x1="45.60" y1="158.28" x2="51.30" y2="158.28" stroke="#000" stroke-width="1.0"/>
<line x1="371.20" y1="158.28" x2="365.50" y2="158.28" stroke="#000" stroke-width="1.0"/>
<line x1="45.60" y1="148.33" x2="51.30" y2="148.33" stroke="#000" stroke-width="1.0"/>
<line x1="371.20" y1="148.33" x2="365.50" y2="148.33" stroke="#000" stroke-width="1.0"/>
<line x1="45.60" y1="138.39" x2="51.30" y2="138.39" stroke="#000" stroke-width="1.0"/>
<line x1="371.20" y1="138.39" x2="365.50" y2="138.39" stroke="#000" stroke-width="1.0"/>
<line x1="45.60" y1="128.44" x2="51.30" y2="128.44" stroke="#000" stroke-width="1.0"/>
<line x1="371.20" y1="128.44" x2="365.50" y2="128.44" stroke="#000" stroke-width="1.0"/>
<line x1="45.60" y1="118.50" x2="56.60" y2="118.50" stroke="#000" stroke-width="1.0"/>
<line x1="371.20" y1="118.50" x2="360.20" y2="118.50" stroke="#000" stroke-width="1.0"/>
<line x1="45.60" y1="108.55" x2="51.30" y2="108.55" stroke="#000" stroke-width="1.0"/>
<line x1="371.20" y1="108.55" x2="365.50" y2="108.55" stroke="#000" stroke-width="1.0"/>
<line x1="45.60" y1="98.61" x2="51.30" y2="98.61" stroke="#000" stroke-width="1.0"/>
<line x1="371.20" y1="98.61" x2="365.50" y2="98.61" stroke="#000" stroke-width="1.0"/>
<line x1="45.60" y1="88.66" x2="51.30" y2="88.66" stroke="#000" stroke-width="1.0"/>
<line x1="371.20" y1="88.66" x2="365.50" y2="88.66" stroke="#000" stroke-width="1.0"/>
<line x1="45.60" y1="78.72" x2="51.30" y2="78.72" stroke="#000" stroke-width="1.0"/>
<line x1="371.20" y1="78.72" x2="365.50" y2="78.72" stroke="#000" stroke-width="1.0"/>
<line x1="45.60" y1="68.77" x2="56.60" y2="68.77" stroke="#000" stroke-width="1.0"/>
<line x1="371.20" y1="68.77" x2="360.20" y2="68.77" stroke="#000" stroke-width="1.0"/>
<line x1="45.60" y1="58.83" x2="51.30" y2="58.83" stroke="#000" stroke-width="1.0"/>
<line x1="371.20" y1="58.83" x2="365.50" y2="58.83" stroke="#000" stroke-width="1.0"/>
<line x1="45.60" y1="48.88" x2="51.30" y2="48.88" stroke="#000" stroke-width="1.0"/>
<line x1="371.20" y1="48.88" x2="365.50" y2="48.88" stroke="#000" stroke-width="1.0"/>
<line x1="45.60" y1="38.94" x2="51.30" y2="38.94" stroke="#000" stroke-width="1.0"/>
<line x1="371.20" y1="38.94" x2="365.50" y2="38.94" stroke="#000" stroke-width="1.0"/>
<line x1="45.60" y1="29.00" x2="51.30" y2="29.00" stroke="#000" stroke-width="1.0"/>
<line x1="371.20" y1="29.00" x2="365.50" y2="29.00" stroke="#000" stroke-width="1.0"/>
<line x1="45.60" y1="19.05" x2="56.60" y2="19.05" stroke="#000" stroke-width="1.0"/>
<line x1="371.20" y1="19.05" x2="360.20" y2="19.05" stroke="#000" stroke-width="1.0"/>
<line x1="51.96" y1="17.60" x2="51.96" y2="21.70" stroke="#000" stroke-width="1.0"/>
<line x1="51.96" y1="317.55" x2="51.96" y2="313.45" stroke="#000" stroke-width="1.0"/>
<line x1="51.96" y1="477.60" x2="51.96" y2="475.10" stroke="#000" stroke-width="1.0"/>
<line x1="51.96" y1="317.55" x2="51.96" y2="320.05" stroke="#000" stroke-width="1.0"/>
<line x1="69.34" y1="17.60" x2="69.34" y2="21.70" stroke="#000" stroke-width="1.0"/>
<line x1="69.34" y1="317.55" x2="69.34" y2="313.45" stroke="#000" stroke-width="1.0"/>
<line x1="69.34" y1="477.60" x2="69.34" y2="475.10" stroke="#000" stroke-width="1.0"/>
<line x1="69.34" y1="317.55" x2="69.34" y2="320.05" stroke="#000" stroke-width="1.0"/>
<line x1="86.72" y1="17.60" x2="86.72" y2="25.80" stroke="#000" stroke-width="1.0"/>
<line x1="86.72" y1="317.55" x2="86.72" y2="309.25" stroke="#000" stroke-width="1.0"/>
<line x1="86.72" y1="477.60" x2="86.72" y2="472.60" stroke="#000" stroke-width="1.0"/>
<line x1="86.72" y1="317.55" x2="86.72" y2="322.55" stroke="#000" stroke-width="1.0"/>
<line x1="104.10" y1="17.60" x2="104.10" y2="21.70" stroke="#000" stroke-width="1.0"/>
<line x1="104.10" y1="317.55" x2="104.10" y2="313.45" stroke="#000" stroke-width="1.0"/>
<line x1="104.10" y1="477.60" x2="104.10" y2="475.10" stroke="#000" stroke-width="1.0"/>
<line x1="104.10" y1="317.55" x2="104.10" y2="320.05" stroke="#000" stroke-width="1.0"/>
<line x1="121.48" y1="17.60" x2="121.48" y2="21.70" stroke="#000" stroke-width="1.0"/>
<line x1="121.48" y1="317.55" x2="121.48" y2="313.45" stroke="#000" stroke-width="1.0"/>
<line x1="121.48" y1="477.60" x2="121.48" y2="475.10" stroke="#000" stroke-width="1.0"/>
<line x1="121.48" y1="317.55" x2="121.48" y2="320.05" stroke="#000" stroke-width="1.0"/>
<line x1="138.86" y1="17.60" x2="138.86" y2="21.70" stroke="#000" stroke-width="1.0"/>
<line x1="138.86" y1="317.55" x2="138.86" y2="313.45" stroke="#000" stroke-width="1.0"/>
<line x1="138.86" y1="477.60" x2="138.86" y2="475.10" stroke="#000" stroke-width="1.0"/>
<line x1="138.86" y1="317.55" x2="138.86" y2="320.05" stroke="#000" stroke-width="1.0"/>
<line x1="156.24" y1="17.60" x2="156.24" y2="25.80" stroke="#000" stroke-width="1.0"/>
<line x1="156.24" y1="317.55" x2="156.24" y2="309.25" stroke="#000" stroke-width="1.0"/>
<line x1="156.24" y1="477.60" x2="156.24" y2="472.60" stroke="#000" stroke-width="1.0"/>
<line x1="156.24" y1="317.55" x2="156.24" y2="322.55" stroke="#000" stroke-width="1.0"/>
<line x1="173.62" y1="17.60" x2="173.62" y2="21.70" stroke="#000" stroke-width="1.0"/>
<line x1="173.62" y1="317.55" x2="173.62" y2="313.45" stroke="#000" stroke-width="1.0"/>
<line x1="173.62" y1="477.60" x2="173.62" y2="475.10" stroke="#000" stroke-width="1.0"/>
<line x1="173.62" y1="317.55" x2="173.62" y2="320.05" stroke="#000" stroke-width="1.0"/>
<line x1="191.00" y1="17.60" x2="191.00" y2="21.70" stroke="#000" stroke-width="1.0"/>
<line x1="191.00" y1="317.55" x2="191.00" y2="313.45" stroke="#000" stroke-width="1.0"/>
<line x1="191.00" y1="477.60" x2="191.00" y2="475.10" stroke="#000" stroke-width="1.0"/>
<line x1="191.00" y1="317.55" x2="191.00" y2="320.05" stroke="#000" stroke-width="1.0"/>
<line x1="208.38" y1="17.60" x2="208.38" y2="21.70" stroke="#000" stroke-width="1.0"/>
<line x1="208.38" y1="317.55" x2="208.38" y2="313.45" stroke="#000" stroke-width="1.0"/>
<line x1="208.38" y1="477.60" x2="208.38" y2="475.10" stroke="#000" stroke-width="1.0"/>
<line x1="208.38" y1="317.55" x2="208.38" y2="320.05" stroke="#000" stroke-width="1.0"/>
<line x1="225.76" y1="17.60" x2="225.76" y2="25.80" stroke="#000" stroke-width="1.0"/>
<line x1="225.76" y1="317.55" x2="225.76" y2="309.25" stroke="#000" stroke-width="1.0"/>
<line x1="225.76" y1="477.60" x2="225.76" y2="472.60" stroke="#000" stroke-width="1.0"/>
<line x1="225.76" y1="317.55" x2="225.76" y2="322.55" stroke="#000" stroke-width="1.0"/>
<line x1="243.14" y1="17.60" x2="243.14" y2="21.70" stroke="#000" stroke-width="1.0"/>
<line x1="243.14" y1="317.55" x2="243.14" y2="313.45" stroke="#000" stroke-width="1.0"/>
<line x1="243.14" y1="477.60" x2="243.14" y2="475.10" stroke="#000" stroke-width="1.0"/>
<line x1="243.14" y1="317.55" x2="243.14" y2="320.05" stroke="#000" stroke-width="1.0"/>
<line x1="260.52" y1="17.60" x2="260.52" y2="21.70" stroke="#000" stroke-width="1.0"/>
<line x1="260.52" y1="317.55" x2="260.52" y2="313.45" stroke="#000" stroke-width="1.0"/>
<line x1="260.52" y1="477.60" x2="260.52" y2="475.10" stroke="#000" stroke-width="1.0"/>
<line x1="260.52" y1="317.55" x2="260.52" y2="320.05" stroke="#000" stroke-width="1.0"/>
<line x1="277.90" y1="17.60" x2="277.90" y2="21.70" stroke="#000" stroke-width="1.0"/>
<line x1="277.90" y1="317.55" x2="277.90" y2="313.45" stroke="#000" stroke-width="1.0"/>
<line x1="277.90" y1="477.60" x2="277.90" y2="475.10" stroke="#000" stroke-width="1.0"/>
<line x1="277.90" y1="317.55" x2="277.90" y2="320.05" stroke="#000" stroke-width="1.0"/>
<line x1="295.28" y1="17.60" x2="295.28" y2="25.80" stroke="#000" stroke-width="1.0"/>
<line x1="295.28" y1="317.55" x2="295.28" y2="309.25" stroke="#000" stroke-width="1.0"/>
<line x1="295.28" y1="477.60" x2="295.28" y2="472.60" stroke="#000" stroke-width="1.0"/>
<line x1="295.28" y1="317.55" x2="295.28" y2="322.55" stroke="#000" stroke-width="1.0"/>
<line x1="312.66" y1="17.60" x2="312.66" y2="21.70" stroke="#000" stroke-width="1.0"/>
<line x1="312.66" y1="317.55" x2="312.66" y2="313.45" stroke="#000" stroke-width="1.0"/>
<line x1="312.66" y1="477.60" x2="312.66" y2="475.10" stroke="#000" stroke-width="1.0"/>
<line x1="312.66" y1="317.55" x2="312.66" y2="320.05" stroke="#000" stroke-width="1.0"/>
<line x1="330.04" y1="17.60" x2="330.04" y2="21.70" stroke="#000" stroke-width="1.0"/>
<line x1="330.04" y1="317.55" x2="330.04" y2="313.45" stroke="#000" stroke-width="1.0"/>
<line x1="330.04" y1="477.60" x2="330.04" y2="475.10" stroke="#000" stroke-width="1.0"/>
<line x1="330.04" y1="317.55" x2="330.04" y2="320.05" stroke="#000" stroke-width="1.0"/>
<line x1="347.42" y1="17.60" x2="347.42" y2="21.70" stroke="#000" stroke-width="1.0"/>
<line x1="347.42" y1="317.55" x2="347.42" y2="313.45" stroke="#000" stroke-width="1.0"/>
<line x1="347.42" y1="477.60" x2="347.42" y2="475.10" stroke="#000" stroke-width="1.0"/>
<line x1="347.42" y1="317.55" x2="347.42" y2="320.05" stroke="#000" stroke-width="1.0"/>
<line x1="364.80" y1="17.60" x2="364.80" y2="25.80" stroke="#000" stroke-width="1.0"/>
<line x1="364.80" y1="317.55" x2="364.80" y2="309.25" stroke="#000" stroke-width="1.0"/>
<line x1="364.80" y1="477.60" x2="364.80" y2="472.60" stroke="#000" stroke-width="1.0"/>
<line x1="364.80" y1="317.55" x2="364.80" y2="322.55" stroke="#000" stroke-width="1.0"/>
<line x1="45.60" y1="458.25" x2="52.60" y2="458.25" stroke="#000" stroke-width="1.0"/>
<line x1="371.20" y1="458.25" x2="364.20" y2="458.25" stroke="#000" stroke-width="1.0"/>
<line x1="45.60" y1="442.31" x2="50.80" y2="442.31" stroke="#000" stroke-width="0.85"/>
<line x1="371.20" y1="442.31" x2="366.00" y2="442.31" stroke="#000" stroke-width="0.85"/>
<line x1="45.60" y1="428.83" x2="50.80" y2="428.83" stroke="#000" stroke-width="0.85"/>
<line x1="371.20" y1="428.83" x2="366.00" y2="428.83" stroke="#000" stroke-width="0.85"/>
<line x1="45.60" y1="417.16" x2="50.80" y2="417.16" stroke="#000" stroke-width="0.85"/>
<line x1="371.20" y1="417.16" x2="366.00" y2="417.16" stroke="#000" stroke-width="0.85"/>
<line x1="45.60" y1="406.86" x2="50.80" y2="406.86" stroke="#000" stroke-width="0.85"/>
<line x1="371.20" y1="406.86" x2="366.00" y2="406.86" stroke="#000" stroke-width="0.85"/>
<line x1="45.60" y1="397.65" x2="52.60" y2="397.65" stroke="#000" stroke-width="1.0"/>
<line x1="371.20" y1="397.65" x2="364.20" y2="397.65" stroke="#000" stroke-width="1.0"/>
<line x1="45.60" y1="389.32" x2="50.80" y2="389.32" stroke="#000" stroke-width="0.85"/>
<line x1="371.20" y1="389.32" x2="366.00" y2="389.32" stroke="#000" stroke-width="0.85"/>
<line x1="45.60" y1="381.71" x2="50.80" y2="381.71" stroke="#000" stroke-width="0.85"/>
<line x1="371.20" y1="381.71" x2="366.00" y2="381.71" stroke="#000" stroke-width="0.85"/>
<line x1="45.60" y1="374.71" x2="50.80" y2="374.71" stroke="#000" stroke-width="0.85"/>
<line x1="371.20" y1="374.71" x2="366.00" y2="374.71" stroke="#000" stroke-width="0.85"/>
<line x1="45.60" y1="368.23" x2="50.80" y2="368.23" stroke="#000" stroke-width="0.85"/>
<line x1="371.20" y1="368.23" x2="366.00" y2="368.23" stroke="#000" stroke-width="0.85"/>
<line x1="45.60" y1="362.20" x2="50.80" y2="362.20" stroke="#000" stroke-width="0.85"/>
<line x1="371.20" y1="362.20" x2="366.00" y2="362.20" stroke="#000" stroke-width="0.85"/>
<line x1="45.60" y1="356.56" x2="50.80" y2="356.56" stroke="#000" stroke-width="0.85"/>
<line x1="371.20" y1="356.56" x2="366.00" y2="356.56" stroke="#000" stroke-width="0.85"/>
<line x1="45.60" y1="351.26" x2="50.80" y2="351.26" stroke="#000" stroke-width="0.85"/>
<line x1="371.20" y1="351.26" x2="366.00" y2="351.26" stroke="#000" stroke-width="0.85"/>
<line x1="45.60" y1="346.26" x2="50.80" y2="346.26" stroke="#000" stroke-width="0.85"/>
<line x1="371.20" y1="346.26" x2="366.00" y2="346.26" stroke="#000" stroke-width="0.85"/>
<line x1="45.60" y1="341.54" x2="50.80" y2="341.54" stroke="#000" stroke-width="0.85"/>
<line x1="371.20" y1="341.54" x2="366.00" y2="341.54" stroke="#000" stroke-width="0.85"/>
<line x1="45.60" y1="337.05" x2="52.60" y2="337.05" stroke="#000" stroke-width="1.0"/>
<line x1="371.20" y1="337.05" x2="364.20" y2="337.05" stroke="#000" stroke-width="1.0"/>
<line x1="45.60" y1="332.79" x2="50.80" y2="332.79" stroke="#000" stroke-width="0.85"/>
<line x1="371.20" y1="332.79" x2="366.00" y2="332.79" stroke="#000" stroke-width="0.85"/>
<line x1="45.60" y1="328.72" x2="50.80" y2="328.72" stroke="#000" stroke-width="0.85"/>
<line x1="371.20" y1="328.72" x2="366.00" y2="328.72" stroke="#000" stroke-width="0.85"/>
<line x1="45.60" y1="324.83" x2="50.80" y2="324.83" stroke="#000" stroke-width="0.85"/>
<line x1="371.20" y1="324.83" x2="366.00" y2="324.83" stroke="#000" stroke-width="0.85"/>
<line x1="45.60" y1="321.11" x2="50.80" y2="321.11" stroke="#000" stroke-width="0.85"/>
<line x1="371.20" y1="321.11" x2="366.00" y2="321.11" stroke="#000" stroke-width="0.85"/>
<line x1="45.60" y1="317.54" x2="50.80" y2="317.54" stroke="#000" stroke-width="0.85"/>
<line x1="371.20" y1="317.54" x2="366.00" y2="317.54" stroke="#000" stroke-width="0.85"/>
<text x="50.3" y="14.3" font-size="12.35" font-family="Liberation Sans, sans-serif">900 GeV pp</text>
<text x="366.8" y="14.3" font-size="12" text-anchor="end" font-family="Liberation Sans, sans-serif">Underlying Event</text>
<text x="41.6" y="23.05" font-size="11.7" text-anchor="end" font-family="Liberation Sans, sans-serif">3</text>
<text x="41.6" y="72.77" font-size="11.7" text-anchor="end" font-family="Liberation Sans, sans-serif">2.5</text>
<text x="41.6" y="122.50" font-size="11.7" text-anchor="end" font-family="Liberation Sans, sans-serif">2</text>
<text x="41.6" y="172.22" font-size="11.7" text-anchor="end" font-family="Liberation Sans, sans-serif">1.5</text>
<text x="41.6" y="221.95" font-size="11.7" text-anchor="end" font-family="Liberation Sans, sans-serif">1</text>
<text x="41.6" y="271.67" font-size="11.7" text-anchor="end" font-family="Liberation Sans, sans-serif">0.5</text>
<text x="41.6" y="321.40" font-size="11.7" text-anchor="end" clip-path="url(#c0)" font-family="Liberation Sans, sans-serif">0</text>
<text x="38.7" y="341.05" font-size="11.7" text-anchor="end" font-family="Liberation Sans, sans-serif">2</text>
<text x="374.0" y="341.05" font-size="11.7" font-family="Liberation Sans, sans-serif">2</text>
<text x="38.7" y="401.65" font-size="11.7" text-anchor="end" font-family="Liberation Sans, sans-serif">1</text>
<text x="374.0" y="401.65" font-size="11.7" font-family="Liberation Sans, sans-serif">1</text>
<text x="38.7" y="462.25" font-size="11.7" text-anchor="end" font-family="Liberation Sans, sans-serif">0.5</text>
<text x="374.0" y="462.25" font-size="11.7" font-family="Liberation Sans, sans-serif">0.5</text>
<text x="87.22" y="489.3" font-size="11.7" text-anchor="middle" font-family="Liberation Sans, sans-serif">2</text>
<text x="156.74" y="489.3" font-size="11.7" text-anchor="middle" font-family="Liberation Sans, sans-serif">4</text>
<text x="226.26" y="489.3" font-size="11.7" text-anchor="middle" font-family="Liberation Sans, sans-serif">6</text>
<text x="295.78" y="489.3" font-size="11.7" text-anchor="middle" font-family="Liberation Sans, sans-serif">8</text>
<text x="365.30" y="489.3" font-size="11.7" text-anchor="middle" font-family="Liberation Sans, sans-serif">10</text>
<text x="94.2" y="40.4" font-size="12" font-family="Liberation Sans, sans-serif">Away</text>
<text x="125.1" y="46.9" font-size="29.8" font-family="Liberation Serif, serif">&#931;</text>
<text x="144.2" y="40.4" font-size="12" font-family="Liberation Sans, sans-serif">p</text>
<text x="151.3" y="50.9" font-size="7.7" font-family="Liberation Sans, sans-serif">T</text>
<text x="160.1" y="40.4" font-size="12" font-family="Liberation Sans, sans-serif">density vs.</text>
<text x="219.2" y="40.4" font-size="12" font-family="Liberation Sans, sans-serif">p</text>
<text x="225.0" y="33.8" font-size="7.5" font-family="Liberation Sans, sans-serif">trk1</text>
<text x="225.6" y="46.6" font-size="7.7" font-family="Liberation Sans, sans-serif">T</text>
<text x="237.4" y="40.4" font-size="12" font-family="Liberation Sans, sans-serif">,</text>
<path d="M244.2,33.6 L245.7,40.6" stroke="#000" stroke-width="1.7" fill="none"/>
<path d="M245.6,40.4 L247.7,30.25 H254.4" stroke="#000" stroke-width="0.9" fill="none"/>
<text x="248.9" y="40.4" font-size="12" font-family="Liberation Sans, sans-serif">s</text>
<text x="257.2" y="40.4" font-size="12" font-family="Liberation Sans, sans-serif">= {900 GeV}</text>
<text x="94.2" y="64.9" font-size="9.43" font-family="Liberation Sans, sans-serif">ATLAS</text>
<text x="94.2" y="77.9" font-size="9.43" font-family="Liberation Sans, sans-serif">Herwig++ 2.7.1 default</text>
<text x="94.2" y="90.9" font-size="9.43" font-family="Liberation Sans, sans-serif">Herwig 7.2.1 default</text>
<text x="94.2" y="103.9" font-size="9.43" font-family="Liberation Sans, sans-serif">Pythia 8.315 default</text>
<text x="94.2" y="116.6" font-size="9.43" font-family="Liberation Sans, sans-serif">Pythia 8.315 vincia-default</text>
<text x="94.2" y="129.5" font-size="9.43" font-family="Liberation Sans, sans-serif">Sherpa 2.2.9 default</text>
<rect x="73.60" y="59.50" width="5.6" height="5.6" fill="#000"/>
<line x1="64" y1="75.0" x2="88.5" y2="75.0" stroke="#b3600f" stroke-width="1.1" stroke-dasharray="2.5,1.8"/>
<rect x="73.2" y="71.8" width="6.4" height="6.4" fill="#fff"/>
<circle cx="76.40" cy="75.00" r="2.6" fill="none" stroke="#b3600f" stroke-width="1.25"/>
<line x1="64" y1="87.9" x2="88.5" y2="87.9" stroke="#3c9c26" stroke-width="1.1" stroke-dasharray="2.5,1.8"/>
<rect x="73.2" y="84.7" width="6.4" height="6.4" fill="#fff"/>
<rect x="73.90" y="85.40" width="5.0" height="5.0" fill="none" stroke="#3c9c26" stroke-width="1.25"/>
<line x1="64" y1="101.1" x2="88.5" y2="101.1" stroke="#0000ee" stroke-width="1.1"/>
<path d="M76.40,98.10L79.30,103.40L73.50,103.40Z" fill="#0000ee"/>
<line x1="64" y1="114.3" x2="88.5" y2="114.3" stroke="#1899c6" stroke-width="1.1" stroke-dasharray="3.2,2,1.2,2"/>
<path d="M76.40,117.30L79.30,112.00L73.50,112.00Z" fill="#1899c6"/>
<line x1="64" y1="127.3" x2="88.5" y2="127.3" stroke="#ff0000" stroke-width="1.1" stroke-dasharray="1,1.4"/>
<path d="M76.40,123.95L78.45,127.30L76.40,130.65L74.35,127.30Z" fill="#ff0000"/>
<g transform="rotate(-90)"><text x="-144.3" y="13.2" font-size="12" font-family="Liberation Sans, sans-serif">#</text><path d="M-134.3,4.2 L-137.0,9.2 L-134.3,14.6" fill="none" stroke="#000" stroke-width="0.8"/><text x="-132.8" y="13.2" font-size="12" font-family="Liberation Sans, sans-serif">d</text><text x="-126.6" y="5.6" font-size="7.5" font-family="Liberation Sans, sans-serif">2</text><text x="-120.1" y="20.0" font-size="29" font-family="Liberation Serif, serif">&#931;</text><text x="-101.4" y="13.2" font-size="12" font-family="Liberation Sans, sans-serif">p</text><text x="-94.4" y="24.1" font-size="8.4" font-family="Liberation Sans, sans-serif">T</text><text x="-90.6" y="13.2" font-size="12" font-family="Liberation Sans, sans-serif">/d&#951;d&#966;</text><text x="-63.2" y="13.2" font-size="12" font-family="Liberation Sans, sans-serif">#</text><path d="M-54.6,4.6 L-50.2,9.0 L-54.6,13.4" fill="none" stroke="#000" stroke-width="0.8"/><text x="-47.0" y="13.2" font-size="12" font-family="Liberation Sans, sans-serif">[GeV]</text></g>
<text transform="rotate(-90)" x="-427.6" y="18.2" font-size="9.2" font-family="Liberation Sans, sans-serif">Ratio to ATLAS</text>
<text x="242.5" y="501.1" font-size="12.85" font-family="Liberation Sans, sans-serif">p</text>
<text x="250.3" y="507.5" font-size="8.4" font-family="Liberation Sans, sans-serif">T</text>
<text x="258.5" y="501.1" font-size="12.85" letter-spacing="-0.045" font-family="Liberation Sans, sans-serif">(leading track) [GeV]</text>
<text transform="rotate(-90)" x="-126.8" y="380.3" font-size="9.4" fill="#777" font-family="Liberation Sans, sans-serif">Rivet 4.1.0, &#8805; 2.1M events</text>
<text transform="rotate(-90)" x="-312.9" y="380.9" font-size="9.3" fill="#777" font-family="Liberation Sans, sans-serif">mcplots.cern.ch [arXiv:1306.3436]</text>
<text x="165.0" y="302.0" font-size="7.85" fill="#aaa" font-family="Liberation Sans, sans-serif">(ATLAS_2010_I879407)</text>
</svg>
</body></html>
